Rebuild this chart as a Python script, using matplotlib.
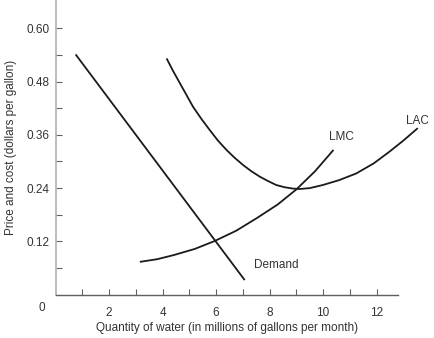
import numpy as np
import matplotlib
matplotlib.use("Agg")
import matplotlib.pyplot as plt

plt.rcParams.update({
    "font.family": "sans-serif",
    "font.sans-serif": ["Liberation Sans", "Arimo", "DejaVu Sans"],
})

# values (quantity in millions of gallons, price in $/gallon)
demand_q = [0.75, 7.07]
demand_p = [0.541, 0.033]

lmc_q = [3.15, 3.80, 4.40, 5.20, 5.95, 6.75, 7.51, 8.30, 9.00, 9.70, 10.39]
lmc_p = [0.074, 0.080, 0.089, 0.103, 0.121, 0.144, 0.172, 0.203, 0.237, 0.278, 0.326]

lac_q = [4.15, 4.40, 4.65, 4.90, 5.14, 5.45, 5.76, 6.07, 6.39, 6.70, 7.01, 7.32, 7.63,
         7.94, 8.25, 8.56, 8.87, 9.12, 9.50, 9.99, 10.60, 11.24, 11.90, 12.48, 13.00, 13.54]
lac_p = [0.532, 0.503, 0.476, 0.449, 0.423, 0.396, 0.371, 0.347, 0.326, 0.308, 0.292,
         0.278, 0.266, 0.256, 0.247, 0.242, 0.239, 0.238, 0.240, 0.247, 0.258, 0.273,
         0.296, 0.322, 0.347, 0.375]

x_major = [2, 4, 6, 8, 10, 12]
y_major = [0.12, 0.24, 0.36, 0.48, 0.60]

fig = plt.figure(figsize=(4.34, 3.38), dpi=100)
ax = fig.add_axes([0.128, 0.128, 0.789, 0.872])
ax.set_xlim(0, 12.8)
ax.set_ylim(0, 0.6635)

lw = 1.3
for q, p in ((demand_q, demand_p), (lmc_q, lmc_p), (lac_q, lac_p)):
    ax.plot(q, p, color="#1a1a1a", lw=lw, clip_on=False,
            solid_capstyle="butt", solid_joinstyle="round")

txt = dict(fontsize=8.5, color="#333333")
ax.text(lmc_q[-1] + 0.28, lmc_p[-1] + 0.03, "LMC", ha="center", va="center", **txt)
ax.text(lac_q[-1], lac_p[-1] + 0.017, "LAC", ha="center", va="center", **txt)
ax.text(demand_q[-1] + 0.35, 0.068, "Demand", ha="left", va="center", **txt)

for s in ("top", "right"):
    ax.spines[s].set_visible(False)
ax.spines["left"].set_color("#b0b0b0")
ax.spines["bottom"].set_color("#606060")
ax.spines["left"].set_linewidth(1.2)
ax.spines["bottom"].set_linewidth(1.0)

ax.set_xticks(x_major)
ax.set_xticklabels([str(v) for v in x_major])
ax.set_xticks(np.arange(1, 13, 1), minor=True)
ax.set_yticks(y_major)
ax.set_yticklabels([f"{v:.2f}" for v in y_major])
ax.set_yticks(np.arange(0.06, 0.62, 0.12), minor=True)
ax.tick_params(which="both", direction="in", color="#606060", width=0.8)
ax.tick_params(axis="x", which="both", length=4, pad=9, labelsize=8.5, labelcolor="#333333")
ax.tick_params(axis="y", which="both", length=4, pad=4, labelsize=8.5, labelcolor="#333333")

ax.text(-0.5, -0.03, "0", ha="center", va="center", fontsize=8.5, color="#333333",
        clip_on=False)

ax.set_xlabel("Quantity of water (in millions of gallons per month)", fontsize=8.5,
              color="#333333", labelpad=2)
ax.set_ylabel("Price and cost (dollars per gallon)", fontsize=8.5, color="#333333",
              labelpad=7)

fig.savefig("out.png", dpi=100)
